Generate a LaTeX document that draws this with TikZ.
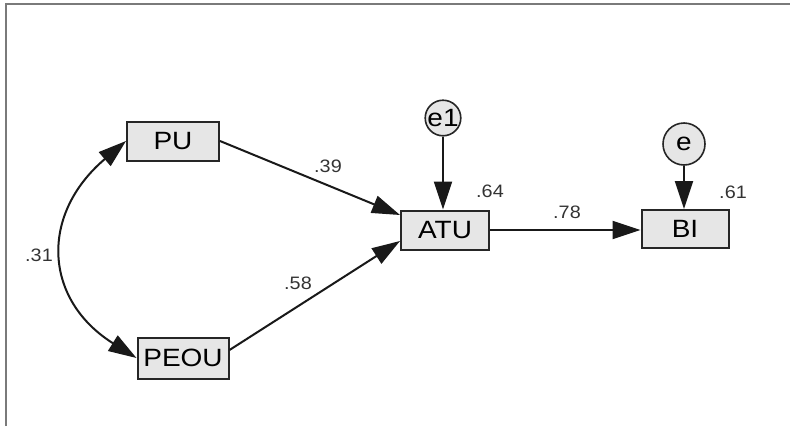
\documentclass[tikz,border=0pt]{standalone}
\usepackage{fontspec}
\setmainfont{Liberation Sans}
\newfontfamily\widefont[FakeStretch=1.12]{Liberation Sans}
\newfontfamily\lblfont[FakeStretch=1.1]{Liberation Sans}
\usetikzlibrary{arrows.meta}
\definecolor{boxfill}{HTML}{E6E6E6}
\definecolor{labelcol}{HTML}{333333}
\definecolor{framecol}{HTML}{7A7A7A}
\tikzset{
  varbox/.style={draw=black!85, line width=2pt, fill=boxfill, minimum width=#1, minimum height=39pt, inner sep=0pt, font=\widefont\fontsize{25}{25}\selectfont},
  errc/.style={circle, draw=black!85, line width=1.6pt, fill=boxfill, minimum size=#1, inner sep=0pt, font=\widefont\fontsize{25}{25}\selectfont},
  path/.style={line width=2pt, draw=black!90, -{Triangle[length=28pt,width=18pt]}},
  lbl/.style={text=labelcol, font=\lblfont\fontsize{18}{18}\selectfont, inner sep=0pt}
}
\begin{document}
\begin{tikzpicture}[x=1pt,y=-1pt]
\useasboundingbox (0,0) rectangle (790,426);
\draw[framecol, line width=1.6pt] (6,426) -- (6,4) -- (790,4);

\node[varbox=92pt] (PU) at (173,141) {PU};
\node[varbox=91pt, minimum height=41pt] (PEOU) at (183,358) {PEOU};
\node[varbox=88pt] (ATU) at (445,230) {ATU};
\node[varbox=87pt, minimum height=38pt] (BI) at (685,229) {BI};
\node[errc=31pt] (e1) at (443,118) {e1};
\node[errc=42pt] (e) at (684,144) {e};

\draw[path] (PU.east) -- (ATU.west |- 0,215);
\draw[path] (PEOU.east |- 0,350) -- (ATU.west |- 0,241);
\draw[path] (ATU.east) -- (BI.west |- ATU.east);
\draw[path] (e1.south) -- (e1.south |- ATU.north);
\draw[path] (e.south) -- (e.south |- BI.north);
\draw[line width=2pt, draw=black!90, {Triangle[length=28pt,width=18pt]}-{Triangle[length=28pt,width=18pt]}]
  (PU.west |- 0,141) .. controls (39,215) and (44,300) .. (PEOU.west |- 0,358);

\node[lbl] (l39) at (328,166) {.39};
\node[lbl] (l58) at (298,283) {.58};
\node[lbl] (l64) at (490,191) {.64};
\node[lbl] (l78) at (567,212) {.78};
\node[lbl] (l61) at (733,192) {.61};
\node[lbl] (l31) at (39,255) {.31};
\end{tikzpicture}
\end{document}
